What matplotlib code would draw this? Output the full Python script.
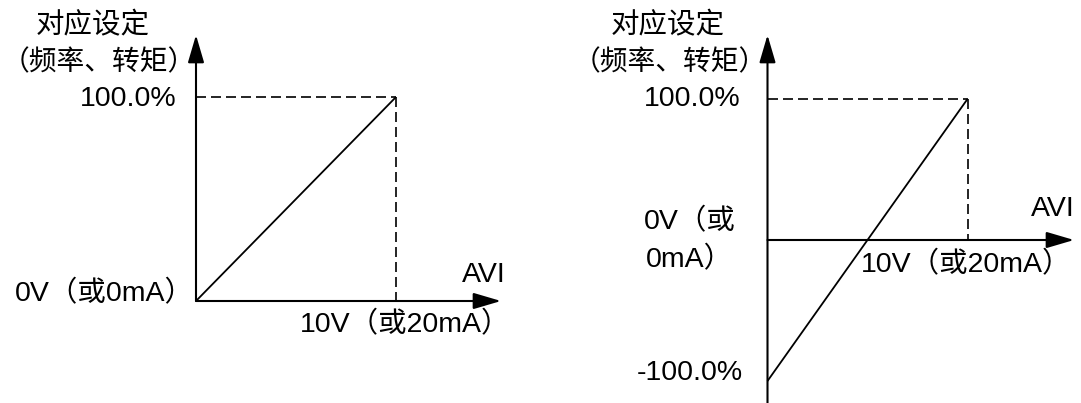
import matplotlib
matplotlib.use("Agg")
import matplotlib.pyplot as plt

plt.rcParams['font.family'] = ['Liberation Sans', 'Noto Sans CJK SC']

# data: AVI input (V) and the corresponding setting (%)
avi_in = [0, 10]
setting_left = [0, 100]
setting_right = [-100, 100]

W, H = 1081, 403
FS = 20.5

fig = plt.figure(figsize=(W / 100, H / 100), dpi=100)


def frame(ax, x0, x1, origin, sx, sy):
    # map data units onto the pixel layout of the drawing
    ax.set_position([x0 / W, 0, (x1 - x0) / W, 1])
    ax.set_xlim((x0 - origin[0]) / sx, (x1 - origin[0]) / sx)
    ax.set_ylim((origin[1] - H) / sy, origin[1] / sy)
    ax.axis('off')


def arrow(ax, start, end):
    ax.annotate('', xy=end, xytext=start,
                arrowprops=dict(arrowstyle='-|>,head_length=17,head_width=5',
                                mutation_scale=1, lw=1.5, color='black',
                                shrinkA=0, shrinkB=0))


def px(x, y, s, ha='left', va='center', fs=FS):
    fig.text(x / W, 1 - y / H, s, ha=ha, va=va, fontsize=fs, color='black')


def draw(ax, setting, y_bottom, x_end, y_top):
    arrow(ax, (0, 0), (x_end, 0))
    arrow(ax, (0, y_bottom), (0, y_top))
    top = max(setting)
    xs = avi_in[-1]
    ax.plot([0, xs], [top, top], color='black', lw=1.2, dashes=(6, 3))
    ax.plot([xs, xs], [top, 0], color='black', lw=1.2, dashes=(6, 3))
    ax.plot(avi_in, setting, color='black', lw=1.3, solid_capstyle='butt')


# left diagram
ax1 = fig.add_axes([0, 0, 0.5, 1])
frame(ax1, 0, 540, (196, 301), 20, 2.04)
draw(ax1, setting_left, 0, (501 - 196) / 20, (301 - 35) / 2.04)

px(93, 26, '对应设定', ha='center')
px(99, 63, '（频率、转矩）', ha='center', fs=20)
px(176, 99, '100.0%', ha='right')
px(15, 294, '0V（或0mA）')
px(300, 325, '10V（或20mA）')
px(462, 275, 'AVI')

# right diagram
ax2 = fig.add_axes([0.5, 0, 0.5, 1])
frame(ax2, 540, 1081, (767.5, 240), 20, 1.41)
draw(ax2, setting_right, (240 - H) / 1.41, (1074 - 767.5) / 20, (240 - 35) / 1.41)

px(668, 26, '对应设定', ha='center')
px(670, 63, '（频率、转矩）', ha='center', fs=20)
px(741, 99, '100.0%', ha='right')
px(644, 222, '0V（或')
px(646, 260, '0mA）')
px(861, 265, '10V（或20mA）')
px(1031, 209, 'AVI')
px(743, 373, '-100.0%', ha='right')

fig.savefig('out.png', dpi=100)
